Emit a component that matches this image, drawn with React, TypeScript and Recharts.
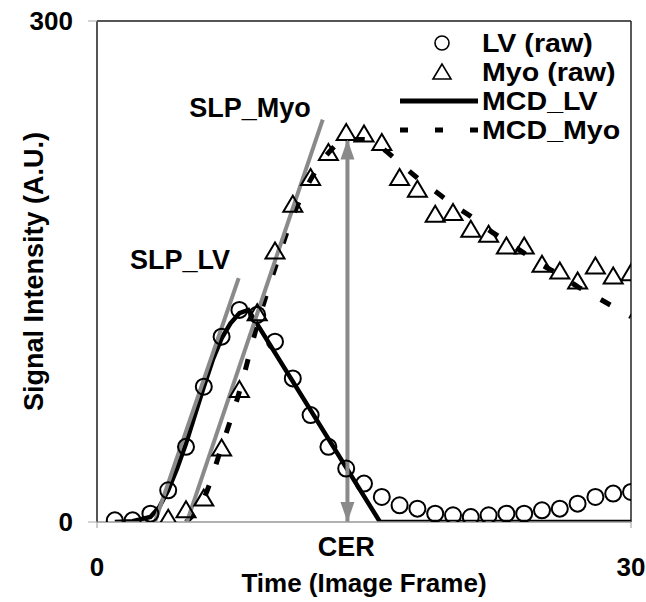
import React from 'react';
import { ComposedChart, Line, Scatter, XAxis, YAxis, ReferenceLine, ReferenceDot } from 'recharts';

const FONT = '"Liberation Sans", Arial, Helvetica, sans-serif';

// raw samples, one per image frame
const lvFrames = [1, 2, 3, 4, 5, 6, 7, 8, 9, 10, 11, 12, 13, 14, 15, 16, 17, 18, 19, 20, 21, 22, 23, 24, 25, 26, 27, 28, 29, 30];
const lvRaw = [1, 1, 5, 19, 45, 81, 111, 127, 124, 108, 86, 64, 45, 32, 23, 15, 10, 8, 5, 4, 3, 4, 5, 5, 7, 8, 11, 15, 17, 18];

const myoFrames = [4, 5, 6, 7, 8, 9, 10, 11, 12, 13, 14, 15, 16, 17, 18, 19, 20, 21, 22, 23, 24, 25, 26, 27, 28, 29, 30];
const myoRaw = [2, 7, 14, 44, 79, 125, 162, 190, 206, 221, 233, 232, 227, 206, 199, 184, 185, 175, 172, 165, 165, 154, 150, 144, 153, 147, 149];

// model fits (MCD)
const mcdLvFrames = [1, 2, 3, 3.5, 4, 4.5, 5, 5.5, 6, 6.5, 7, 7.5, 8, 8.5, 15.9, 30];
const mcdLv = [0, 0.5, 3, 9, 19, 32, 47, 64, 81, 97, 110, 119, 125, 127, 0, 0];

const mcdMyoFrames = [5, 6, 7, 8, 9, 10, 11, 12, 13, 14, 15, 16, 17, 18, 19, 20, 21, 22, 23, 24, 25, 26, 27, 28, 29, 30];
const mcdMyo = [0, 14, 45, 78, 118, 152, 183, 205, 221, 229, 229, 224, 215, 206, 198, 190, 183, 175, 168, 161, 154, 148, 141, 135, 129, 123];

// up-slope tangents and the CER marker
const slpLvFrames = [3.25, 7.96];
const slpLv = [0, 146];
const slpMyoFrames = [5.05, 12.68];
const slpMyo = [0, 241];
const cerFrames = [14.07, 14.07];
const cerSpan = [0, 229];

const xTicks = [0, 30];
const yTicks = [0, 300];
const legendLabels = ['LV (raw)', 'Myo (raw)', 'MCD_LV', 'MCD_Myo'];

const pts = (ts: number[], vs: number[]) => ts.map((t, i) => ({ t, v: vs[i] }));

const GRAY = '#8a8a8a';

const CircleMark = (p: any) => {
  if (p.cx == null || p.cy == null) return null;
  return <circle cx={p.cx} cy={p.cy} r={8} fill="none" stroke="#000" strokeWidth={2} />;
};

const TriMark = (p: any) => {
  if (p.cx == null || p.cy == null) return null;
  const { cx, cy } = p;
  return (
    <polygon
      points={`${cx},${cy - 9} ${cx - 9.5},${cy + 7} ${cx + 9.5},${cy + 7}`}
      fill="none"
      stroke="#000"
      strokeWidth={2}
    />
  );
};

const ArrowHead = (p: any) => {
  if (p.cx == null || p.cy == null) return null;
  const { cx, cy, index } = p;
  const d = index === 0 ? -20 : 20;
  return <polygon key={`ah-${index}`} points={`${cx},${cy} ${cx - 7},${cy + d} ${cx + 7},${cy + d}`} fill={GRAY} stroke="none" />;
};

const labelStyle = { fill: '#000', fontSize: 27, fontWeight: 'bold', fontFamily: FONT };

const YTitle = (p: any) => {
  const vb = p.viewBox;
  const x = vb.x - 3;
  const y = vb.y + vb.height / 2;
  return (
    <text x={x} y={y} transform={`rotate(-90, ${x}, ${y})`} textAnchor="middle" dominantBaseline="central" style={labelStyle}>
      Signal Intensity (A.U.)
    </text>
  );
};

const XTitle = (p: any) => {
  const vb = p.viewBox;
  return (
    <text x={vb.x + vb.width / 2} y={vb.y + 70} textAnchor="middle" style={{ ...labelStyle, fontSize: 26 }}>
      Time (Image Frame)
    </text>
  );
};

const LegendBox = () => {
  const rows = [15, 44, 73, 102];
  return (
    <svg width={246} height={122} style={{ position: 'absolute', left: 400, top: 28 }}>
      <circle cx={42} cy={rows[0]} r={7} fill="none" stroke="#000" strokeWidth={1.6} />
      <polygon points={`42,${rows[1] - 8} 33,${rows[1] + 7} 51,${rows[1] + 7}`} fill="none" stroke="#000" strokeWidth={1.6} />
      <line x1={0} x2={78} y1={rows[2]} y2={rows[2]} stroke="#000" strokeWidth={5} />
      <line x1={0} x2={78} y1={rows[3]} y2={rows[3]} stroke="#000" strokeWidth={5} strokeDasharray="8 27" />
      {legendLabels.map((s, i) => (
        <text
          key={s}
          x={0}
          y={0}
          transform={`translate(82, ${rows[i]}) scale(1.1, 1)`}
          dominantBaseline="central"
          style={{ ...labelStyle, fontSize: 26 }}
        >
          {s}
        </text>
      ))}
    </svg>
  );
};

export default function App() {
  return (
    <div style={{ position: 'fixed', left: 0, top: 0, width: 646, height: 602, background: '#fff' }}>
      <ComposedChart width={646} height={602} margin={{ top: 21, right: 15, bottom: 30, left: 37 }}>
        <XAxis
          dataKey="t"
          type="number"
          domain={[0, 30]}
          ticks={xTicks}
          allowDataOverflow
          height={50}
          tickSize={6}
          tickMargin={30}
          axisLine={{ stroke: '#999', strokeWidth: 1.5 }}
          tickLine={{ stroke: '#999' }}
          tick={{ fill: '#000', fontSize: 26, fontWeight: 'bold', fontFamily: FONT }}
          label={XTitle}
        />
        <YAxis
          type="number"
          domain={[0, 300]}
          ticks={yTicks}
          allowDataOverflow
          width={60}
          tickSize={9}
          tickMargin={15}
          axisLine={{ stroke: '#555', strokeWidth: 2 }}
          tickLine={{ stroke: '#aaa' }}
          tick={{ fill: '#000', fontSize: 26, fontWeight: 'bold', fontFamily: FONT }}
          label={YTitle}
        />
        <ReferenceLine y={300} stroke="#555" strokeWidth={2} />
        <ReferenceLine x={30} stroke="#222" strokeWidth={1.5} />

        <Scatter data={pts(lvFrames, lvRaw)} dataKey="v" shape={CircleMark} isAnimationActive={false} legendType="none" />
        <Scatter data={pts(myoFrames, myoRaw)} dataKey="v" shape={TriMark} isAnimationActive={false} legendType="none" />

        <Line data={pts(mcdLvFrames, mcdLv)} dataKey="v" type="linear" stroke="#000" strokeWidth={4.5} dot={false} isAnimationActive={false} legendType="none" />
        <Line data={pts(mcdMyoFrames, mcdMyo)} dataKey="v" type="monotone" stroke="#000" strokeWidth={5} strokeDasharray="11 22" dot={false} isAnimationActive={false} legendType="none" />
        <Line data={pts(slpLvFrames, slpLv)} dataKey="v" type="linear" stroke={GRAY} strokeWidth={4} dot={false} isAnimationActive={false} legendType="none" />
        <Line data={pts(slpMyoFrames, slpMyo)} dataKey="v" type="linear" stroke={GRAY} strokeWidth={4} dot={false} isAnimationActive={false} legendType="none" />
        <Line data={pts(cerFrames, cerSpan)} dataKey="v" type="linear" stroke={GRAY} strokeWidth={4} dot={ArrowHead} isAnimationActive={false} legendType="none" />

        <ReferenceDot x={8.6} y={248} r={0} ifOverflow="visible" label={{ value: 'SLP_Myo', position: 'center', ...labelStyle }} />
        <ReferenceDot x={4.66} y={157} r={0} ifOverflow="visible" label={{ value: 'SLP_LV', position: 'center', ...labelStyle }} />
        <ReferenceDot x={14.0} y={-14.4} r={0} ifOverflow="visible" label={{ value: 'CER', position: 'center', ...labelStyle }} />
      </ComposedChart>
      <LegendBox />
    </div>
  );
}
